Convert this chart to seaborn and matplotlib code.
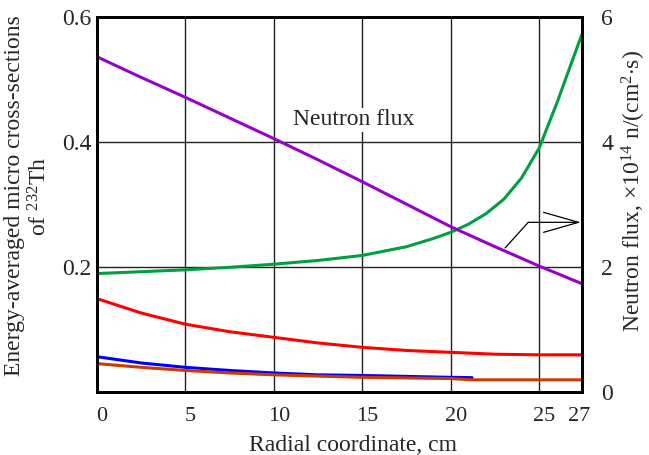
import matplotlib
matplotlib.use("Agg")
import matplotlib.pyplot as plt
import matplotlib.transforms as mtransforms
import seaborn as sns

sns.set_theme(style="white")
plt.rcParams["font.family"] = ["Liberation Serif", "DejaVu Serif"]
plt.rcParams["mathtext.fontset"] = "custom"
plt.rcParams["mathtext.rm"] = "Liberation Serif"
plt.rcParams["mathtext.it"] = "Liberation Serif:italic"

# ---- data ----
x_flux = [0, 2.5, 5, 7.5, 10, 12.5, 15, 17.5, 20, 22.5, 25, 27.4]
flux = [5.36, 5.03, 4.71, 4.38, 4.05, 3.71, 3.36, 3.00, 2.64, 2.32, 2.01, 1.73]

x_green = [0, 2.5, 5, 7.5, 10, 12.5, 15, 17.5, 19, 20, 21, 22, 23, 24, 25, 26, 27, 27.4]
green = [0.189, 0.192, 0.195, 0.199, 0.204, 0.210, 0.218, 0.232, 0.245, 0.255,
         0.268, 0.285, 0.308, 0.342, 0.390, 0.462, 0.540, 0.571]

x_red = [0, 2.5, 5, 7.5, 10, 12.5, 15, 17.5, 20, 22.5, 25, 27.4]
red = [0.149, 0.126, 0.108, 0.096, 0.087, 0.078, 0.071, 0.066, 0.063, 0.060, 0.059, 0.059]

x_blue = [0, 2.5, 5, 7.5, 10, 12.5, 15, 17.5, 20, 21.2]
blue = [0.056, 0.046, 0.039, 0.034, 0.030, 0.027, 0.026, 0.0245, 0.023, 0.0225]

x_orange = [0, 2.5, 5, 7.5, 10, 12.5, 15, 17.5, 20, 21.2, 27.4]
orange = [0.045, 0.039, 0.034, 0.030, 0.027, 0.025, 0.023, 0.022, 0.021, 0.019, 0.019]

x_ticks = [0, 5, 10, 15, 20, 25, 27]
x_ticklabels = ["0", "5", "10", "15", "20", "25", "27"]
left_ticks = [0.2, 0.4, 0.6]
left_ticklabels = ["0.2", "0.4", "0.6"]
right_ticks = [0, 2, 4, 6]
right_ticklabels = ["0", "2", "4", "6"]

# annotation (leader line + arrow toward the right axis)
leader_x = [23.07, 24.38]
leader_y = [0.230, 0.271]
arrow_tip = (27.35, 0.271)

FS_X = 16
FS_Y = 17
FS_LAB = 17
LW = 2.2

fig = plt.figure(figsize=(6.49, 4.55), dpi=100)
ax = fig.add_axes([0.1492, 0.1391, 0.7471, 0.8242])
ax2 = ax.twinx()

sns.lineplot(x=x_green, y=green, ax=ax, color="#00A040", lw=LW, zorder=3)
sns.lineplot(x=x_red, y=red, ax=ax, color="#FF0000", lw=LW, zorder=3)
sns.lineplot(x=x_blue, y=blue, ax=ax, color="#0000FF", lw=LW, zorder=3)
sns.lineplot(x=x_orange, y=orange, ax=ax, color="#CC3A00", lw=LW, zorder=4)
sns.lineplot(x=x_flux, y=flux, ax=ax2, color="#9900CC", lw=LW)

ax.set_xlim(0, 27.4)
ax.set_ylim(0, 0.6)
ax2.set_ylim(0, 6)

ax.set_xticks(x_ticks)
ax.set_xticklabels(x_ticklabels, fontsize=FS_X)
ax.set_yticks(left_ticks)
ax.set_yticklabels(left_ticklabels, fontsize=FS_Y)
ax2.set_yticks(right_ticks)
ax2.set_yticklabels(right_ticklabels, fontsize=FS_Y)

ax.tick_params(axis="x", length=0, pad=11)
ax.tick_params(axis="y", length=0, pad=4)
ax2.tick_params(axis="y", length=0, pad=14)

# shift x tick labels slightly right as in the reference
offset = mtransforms.ScaledTranslation(5 / 100, 0, fig.dpi_scale_trans)
for lab in ax.get_xticklabels():
    lab.set_transform(lab.get_transform() + offset)

ax.grid(True, color="#222222", lw=1.0)
ax.set_axisbelow(True)
xg = ax.get_xgridlines()
xg[0].set_visible(False)
xg[-1].set_visible(False)
ax2.grid(False)

for a in (ax, ax2):
    for s in a.spines.values():
        s.set_color("black")
        s.set_linewidth(2.0)

ax.set_xlabel("Radial coordinate, cm", fontsize=FS_LAB)
ax.xaxis.set_label_coords(0.528, -0.115)
ax.set_ylabel("Energy-averaged micro cross-sections\nof $^{232}$Th", fontsize=FS_LAB,
              linespacing=1.15)
ax.yaxis.set_label_coords(-0.094, 0.522)
ax2.set_ylabel("Neutron flux, $\\times$10$^{14}$ n/(cm$^{2}$$\\cdot$s)", fontsize=FS_LAB)
ax2.yaxis.set_label_coords(1.078, 0.535)

ax.text(11.07, 0.435, "Neutron flux", fontsize=FS_LAB, ha="left", va="center",
        bbox=dict(facecolor="white", edgecolor="none", pad=1), zorder=5)

ax.plot(leader_x, leader_y, color="black", lw=0.9, zorder=5)
ax.annotate("", xy=arrow_tip, xytext=(leader_x[-1], leader_y[-1]),
            arrowprops=dict(arrowstyle="->,head_length=2.1,head_width=0.6",
                            color="black", lw=0.9, shrinkA=0, shrinkB=0),
            zorder=5, annotation_clip=False)

fig.savefig("out.png", dpi=100)
